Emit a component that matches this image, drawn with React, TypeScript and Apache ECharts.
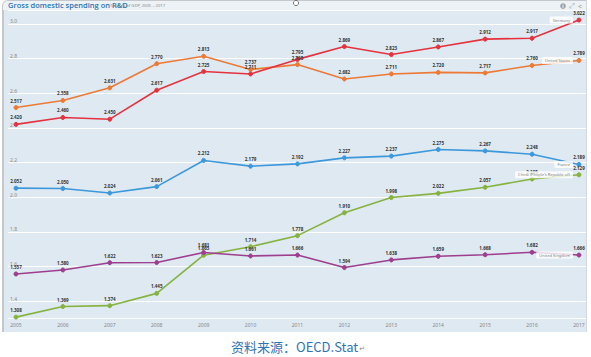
import React, { useEffect, useRef } from "react";
import * as echarts from "echarts";

const years = [2005, 2006, 2007, 2008, 2009, 2010, 2011, 2012, 2013, 2014, 2015, 2016, 2017];
const germany = [2.42, 2.46, 2.45, 2.617, 2.725, 2.711, 2.795, 2.869, 2.823, 2.867, 2.912, 2.917, 3.022];
const unitedStates = [2.517, 2.558, 2.631, 2.77, 2.813, 2.737, 2.765, 2.682, 2.711, 2.72, 2.717, 2.76, 2.789];
const france = [2.052, 2.05, 2.024, 2.061, 2.212, 2.179, 2.192, 2.227, 2.237, 2.275, 2.267, 2.248, 2.189];
const china = [1.308, 1.369, 1.374, 1.445, 1.665, 1.714, 1.778, 1.91, 1.998, 2.022, 2.057, 2.105, 2.129];
const unitedKingdom = [1.557, 1.58, 1.622, 1.623, 1.681, 1.661, 1.666, 1.594, 1.638, 1.659, 1.668, 1.682, 1.666];

const seriesDefs = [
  { name: "China (People's Republic of)", values: china, color: "#86b23f" },
  { name: "United Kingdom", values: unitedKingdom, color: "#9c3f8e" },
  { name: "France", values: france, color: "#3c98db" },
  { name: "United States", values: unitedStates, color: "#ec7a36" },
  { name: "Germany", values: germany, color: "#e3333f" },
];

const title = "Gross domestic spending on R&D";
const subtitle = "Total, % of GDP, 2005 – 2017";
const source = "资料来源：OECD.Stat";

const FONT = "'Noto Sans', 'DejaVu Sans', sans-serif";

export default function App() {
  const ref = useRef<HTMLDivElement>(null);
  useEffect(() => {
    if (!ref.current) return;
    const chart = echarts.init(ref.current, null, { renderer: "svg" });
    const last = years.length - 1;
    const lineSeries: any[] = seriesDefs.map((s) => ({
      type: "line",
      name: s.name,
      data: years.map((y, i) => [y, s.values[i]]),
      lineStyle: { color: s.color, width: 1.6 },
      itemStyle: { color: s.color, borderColor: s.color },
      symbol: "circle",
      symbolSize: 4,
      showSymbol: true,
      label: {
        show: true,
        position: "top",
        distance: 2,
        fontSize: 4.5,
        fontWeight: "bold",
        color: "#333",
        fontFamily: FONT,
        formatter: (p: any) => p.value[1].toFixed(3),
      },
      z: 3,
    }));
    const nameSeries: any[] = seriesDefs.map((s) => ({
      type: "scatter",
      name: s.name + " label",
      data: [[years[last], s.values[last]]],
      symbol: "circle",
      symbolSize: 0.01,
      itemStyle: { color: "transparent" },
      silent: true,
      label: {
        show: true,
        position: "left",
        distance: 6,
        formatter: s.name,
        fontSize: 4,
        color: "#555",
        fontFamily: FONT,
        backgroundColor: "#ffffff",
        padding: [1.5, 3],
        borderRadius: 1,
      },
      z: 4,
    }));
    chart.setOption({
      animation: false,
      backgroundColor: "transparent",
      grid: { left: 8, right: 5, top: 10, bottom: 38.5, containLabel: false },
      xAxis: {
        type: "value",
        min: 2004.83,
        max: 2017.15,
        splitNumber: 12,
        axisLine: { show: false },
        axisTick: { show: false },
        splitLine: { show: false },
        axisLabel: {
          showMinLabel: false,
          showMaxLabel: false,
          fontSize: 5,
          color: "#888",
          margin: 4,
          fontFamily: FONT,
          formatter: (v: number) => String(Math.round(v)),
        },
      },
      yAxis: {
        type: "value",
        min: 1.3,
        max: 3.08,
        splitNumber: 8,
        axisLine: { show: false },
        axisTick: { show: false },
        splitLine: { show: true, lineStyle: { color: "#ffffff", width: 1 } },
        axisLabel: {
          inside: true,
          showMinLabel: false,
          showMaxLabel: false,
          verticalAlign: "bottom",
          margin: 2,
          fontSize: 5,
          color: "#888",
          fontFamily: FONT,
          formatter: (v: number) => v.toFixed(1),
        },
      },
      series: [...lineSeries, ...nameSeries],
      graphic: [
        {
          type: "text",
          left: 8,
          top: 1,
          style: { text: title, fontSize: 7.5, fontWeight: 600, fill: "#2c72b3", fontFamily: "'Open Sans', sans-serif" },
        },
        {
          type: "text",
          left: 110,
          top: 3.5,
          style: { text: subtitle, fontSize: 4.2, fill: "#888", fontFamily: FONT },
        },
        { type: "circle", shape: { cx: 563, cy: 6, r: 2.8 }, style: { fill: "#a0a0a0" } },
        { type: "text", x: 563, y: 6, style: { text: "i", fontSize: 4.5, fontWeight: "bold", fill: "#fff", align: "center", verticalAlign: "middle", fontFamily: FONT } },
        { type: "text", x: 572, y: 6, style: { text: "⤢", fontSize: 7, fill: "#a0a0a0", align: "center", verticalAlign: "middle", fontFamily: "'DejaVu Sans'" } },
        { type: "text", x: 580, y: 6, style: { text: "<", fontSize: 7, fill: "#a0a0a0", align: "center", verticalAlign: "middle", fontFamily: FONT } },
        { type: "circle", shape: { cx: 296, cy: 3, r: 2.6 }, style: { fill: "#fff", stroke: "#777", lineWidth: 1 } },
        {
          type: "text",
          x: 298,
          y: 346,
          style: {
            text: "{a|" + source + "}{b|↵}",
            align: "center",
            verticalAlign: "middle",
            rich: {
              a: { fontSize: 13, fill: "#2f74b5", color: "#2f74b5", fontFamily: "'Noto Sans CJK SC', sans-serif" },
              b: { fontSize: 7, color: "#888", fill: "#888", fontFamily: FONT, padding: [4, 0, 0, 1] },
            },
          },
        },
      ],
    });
    return () => chart.dispose();
  }, []);
  return (
    <div style={{ position: "fixed", left: 0, top: 0, width: 591, height: 357, background: "#ffffff", overflow: "hidden" }}>
      <div
        style={{
          position: "absolute",
          left: 2,
          top: 0,
          width: 585,
          height: 332,
          background: "#dfe9f1",
          borderLeft: "2px solid #c4c8cc",
          borderTop: "1px solid #c4c8cc",
          borderRight: "1px solid #d4d8dc",
          borderTopLeftRadius: 6,
          boxSizing: "border-box",
        }}
      />
      <div
        style={{
          position: "absolute",
          left: 3,
          top: 1,
          width: 583,
          height: 9,
          background: "#edf2f6",
          borderTopLeftRadius: 5,
        }}
      />
      <div ref={ref} style={{ position: "absolute", left: 0, top: 0, width: 591, height: 357 }} />
    </div>
  );
}
